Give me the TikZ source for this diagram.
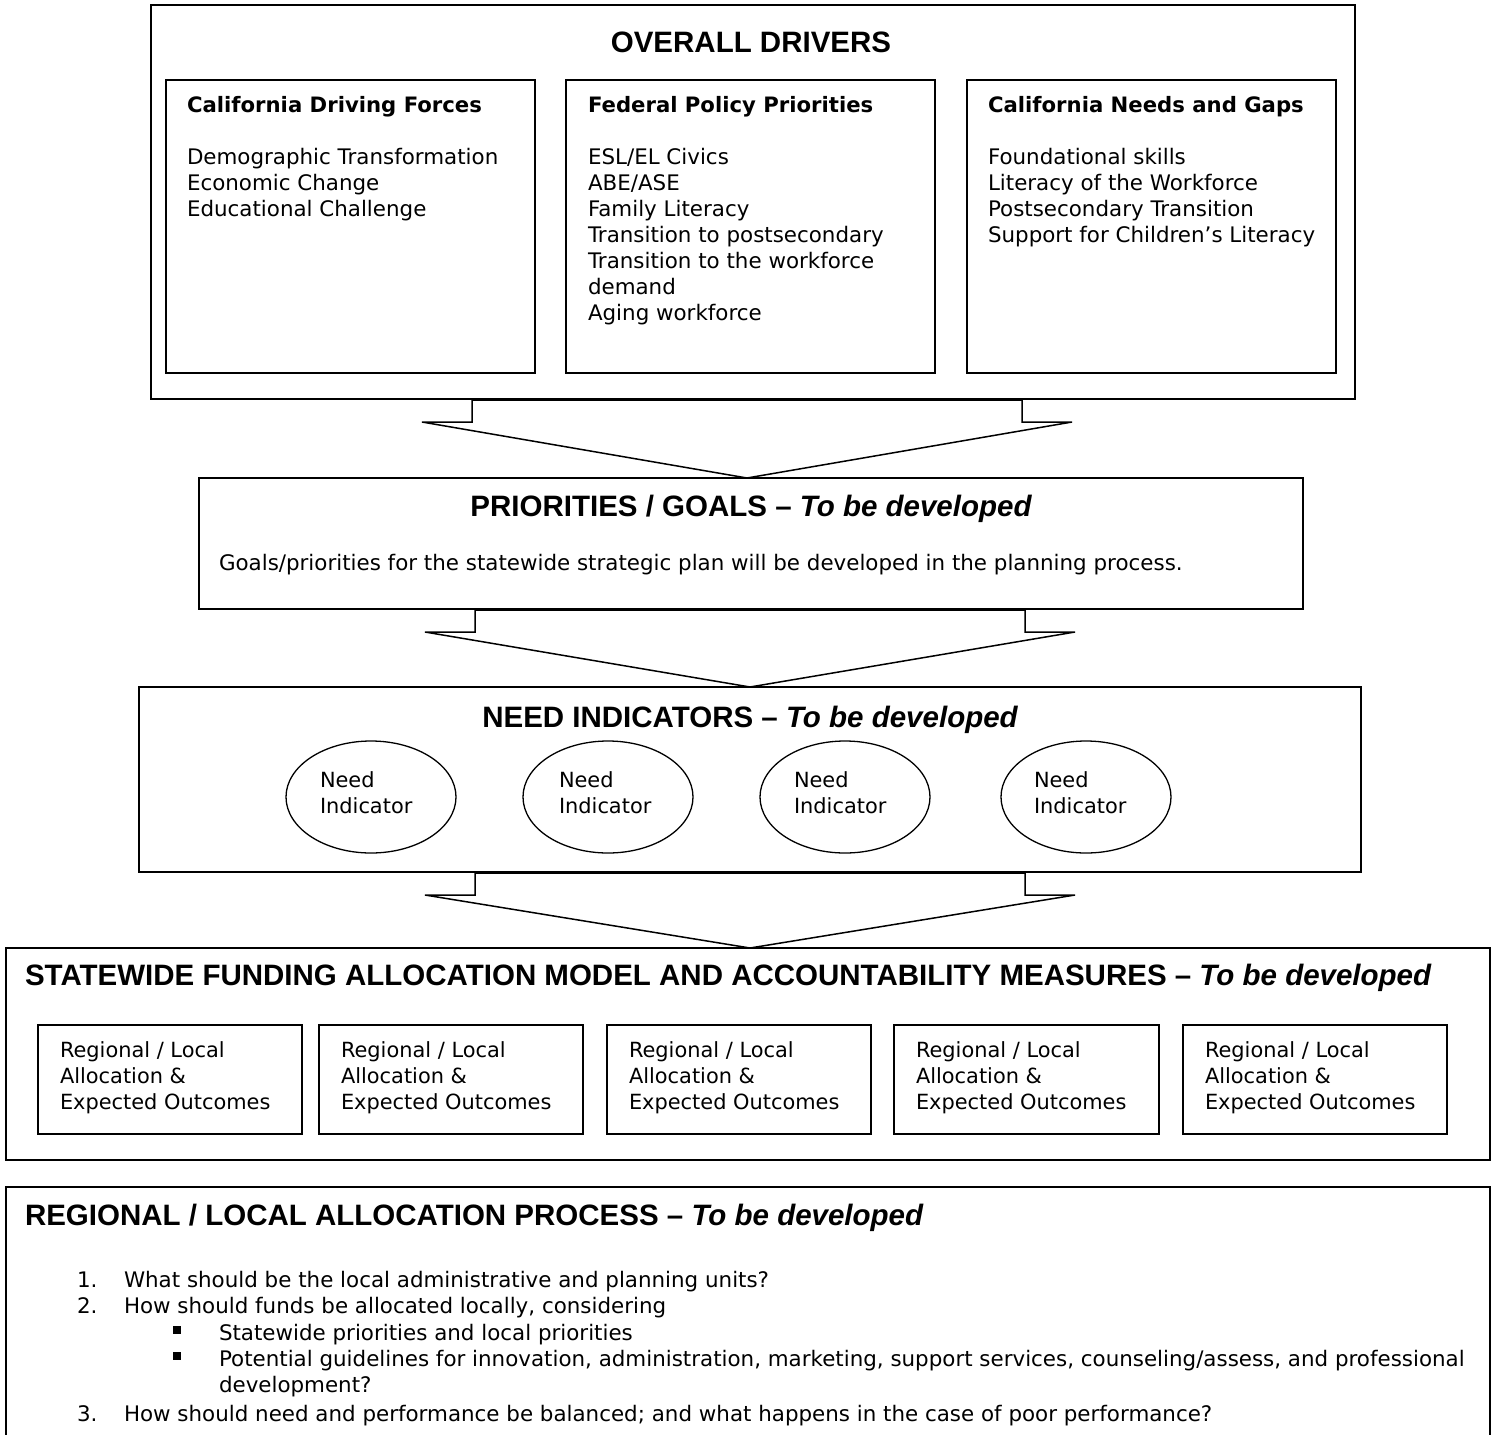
\documentclass[tikz,border=0pt]{standalone}
\usepackage{fontspec}
\setmainfont{DejaVu Sans}
\newfontfamily\arialfont{Liberation Sans}
\usetikzlibrary{shapes.geometric,calc}
\newcommand\linesblock[1]{\begin{tabular}[t]{@{}l@{}}#1\end{tabular}}
\newcommand\frm[5]{\node[frame, minimum width=#4pt, minimum height=#5pt] (#1) at (#2,#3) {};}
\newcommand\bigdownarrow[3]{%
  \coordinate (#1-T) at ($(#1.south -| #2.north)+(#3,0)$);
  \draw[blockarrow] ($(#1-T)+(-275,1)$) -- ($(#1-T)+(-275,23)$) -- ($(#1-T)+(-325,23)$)
    -- ($(#2.north)+(#3,0)$) -- ($(#1-T)+(325,23)$) -- ($(#1-T)+(275,23)$)
    -- ($(#1-T)+(275,1)$) -- cycle;}
\tikzset{
  every node/.style={inner sep=0pt, outer sep=0pt},
  frame/.style={draw, line width=1.5pt, rectangle, anchor=north west},
  body/.style={font=\fontsize{21.4}{26}\selectfont, anchor=base west},
  smallbody/.style={font=\fontsize{20.9}{26}\selectfont, anchor=base west},
  headtxt/.style={font=\bfseries\fontsize{21.2}{26}\selectfont, anchor=base west},
  titletxt/.style={font=\arialfont\bfseries\fontsize{29.5}{34}\selectfont, anchor=base},
  titleleft/.style={titletxt, anchor=base west},
  needell/.style={draw, ellipse, line width=1.3pt, minimum width=170pt, minimum height=112pt},
  blockarrow/.style={draw, line width=1.5pt, line join=miter, fill=white},
}
\begin{document}
\begin{tikzpicture}[x=1pt,y=-1pt]
\useasboundingbox (0,0) rectangle (1502,1435);

% ---------- OVERALL DRIVERS ----------
\frm{drivers}{151}{5}{1204}{394}
\node[titletxt] (driversT) at (751,52) {OVERALL DRIVERS};
\frm{cdf}{166}{80}{369}{293}
\frm{fpp}{566}{80}{369}{293}
\frm{cng}{967}{80}{369}{293}
\node[headtxt] (cdfH) at (187,112) {California Driving Forces};
\node[headtxt] (fppH) at (588,112) {Federal Policy Priorities};
\node[headtxt] (cngH) at (988,112) {California Needs and Gaps};
\node[body] (cdfB) at (187,164) {\linesblock{Demographic Transformation\\Economic Change\\Educational Challenge}};
\node[body] (fppB) at (588,164) {\linesblock{ESL/EL Civics\\ABE/ASE\\Family Literacy\\Transition to postsecondary\\Transition to the workforce\\demand\\Aging workforce}};
\node[body] (cngB) at (988,164) {\linesblock{Foundational skills\\Literacy of the Workforce\\Postsecondary Transition\\Support for Children’s Literacy}};

% ---------- PRIORITIES / GOALS ----------
\frm{goals}{199}{478}{1104}{131}
\node[titletxt] (goalsT) at (751,516) {PRIORITIES / GOALS – \itshape To be developed};
\node[body] (goalsB) at (219,570) {Goals/priorities for the statewide strategic plan will be developed in the planning process.};

% ---------- NEED INDICATORS ----------
\frm{need}{139}{687}{1222}{185}
\node[titletxt] (needT) at (750,727) {NEED INDICATORS – \itshape To be developed};
\node[needell] (n1) at (371,797) {};
\node[needell] (n2) at (608,797) {};
\node[needell] (n3) at (845,797) {};
\node[needell] (n4) at (1086,797) {};
\node[smallbody] (n1t) at (320,787) {\linesblock{Need\\Indicator}};
\node[smallbody] (n2t) at (559,787) {\linesblock{Need\\Indicator}};
\node[smallbody] (n3t) at (794,787) {\linesblock{Need\\Indicator}};
\node[smallbody] (n4t) at (1034,787) {\linesblock{Need\\Indicator}};

% ---------- STATEWIDE FUNDING ----------
\frm{fund}{6}{948}{1484}{212}
\node[titleleft] (fundT) at (25,985) {STATEWIDE FUNDING ALLOCATION MODEL AND ACCOUNTABILITY MEASURES – \itshape To be developed};
\frm{r1}{38}{1025}{264}{109}
\frm{r2}{319}{1025}{264}{109}
\frm{r3}{607}{1025}{264}{109}
\frm{r4}{894}{1025}{265}{109}
\frm{r5}{1183}{1025}{264}{109}
\foreach \k/\xx in {1/60,2/341,3/629,4/916,5/1205}{
  \node[smallbody] (r\k t) at (\xx,1057) {\linesblock{Regional / Local\\Allocation \&\\Expected Outcomes}};
}

% ---------- REGIONAL / LOCAL PROCESS ----------
\node[anchor=north west, minimum width=1484pt, minimum height=260pt] (proc) at (6,1187) {};
\draw[line width=1.5pt] (proc.south west) -- (proc.north west) -- (proc.north east) -- (proc.south east);
\node[titleleft] (procT) at (25,1225) {REGIONAL / LOCAL ALLOCATION PROCESS – \itshape To be developed};
\node[body] (q1n) at (77,1287) {1.};
\node[body] (q1) at (124,1287) {What should be the local administrative and planning units?};
\node[body] (q2n) at (77,1313) {2.};
\node[body] (q2) at (124,1313) {How should funds be allocated locally, considering};
\node[body] (b1m) at (173,1340) {\rule[6pt]{8pt}{8pt}};
\node[body] (b1) at (219,1340) {Statewide priorities and local priorities};
\node[body] (b2m) at (173,1366) {\rule[6pt]{8pt}{8pt}};
\node[body] (b2) at (219,1366) {Potential guidelines for innovation, administration, marketing, support services, counseling/assess, and professional};
\node[body] (b2c) at (219,1392) {development?};
\node[body] (q3n) at (77,1421) {3.};
\node[body] (q3) at (124,1421) {How should need and performance be balanced; and what happens in the case of poor performance?};

% ---------- block arrows ----------
\bigdownarrow{drivers}{goals}{-4}
\bigdownarrow{goals}{need}{0}
\bigdownarrow{need}{fund}{2}
\end{tikzpicture}
\end{document}
